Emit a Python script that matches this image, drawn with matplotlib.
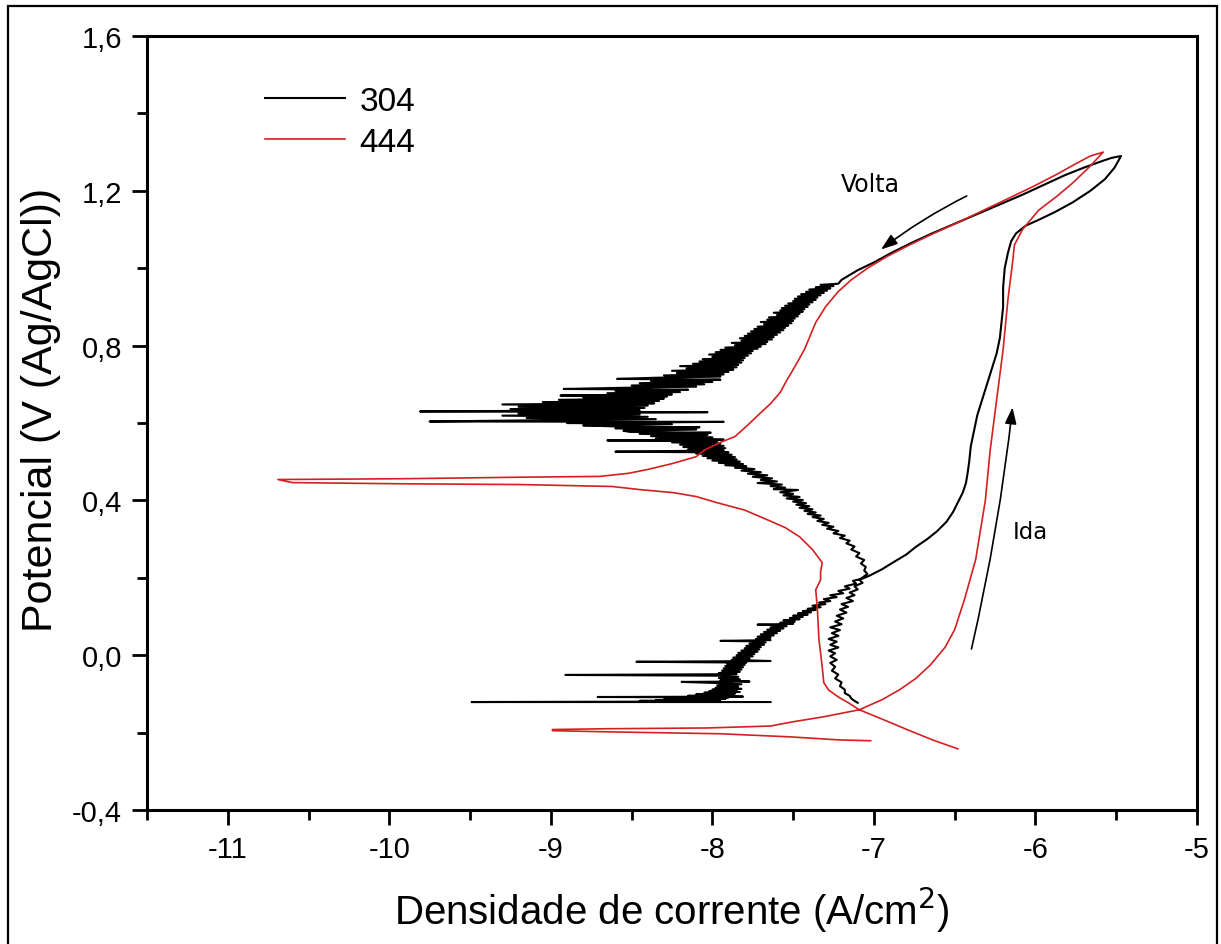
import numpy as np
import matplotlib
matplotlib.use("Agg")
import matplotlib.pyplot as plt
from matplotlib.ticker import FuncFormatter, MultipleLocator
from matplotlib.patches import Rectangle

plt.rcParams['font.family'] = ['Liberation Sans', 'DejaVu Sans']
plt.rcParams['axes.unicode_minus'] = False

# cyclic polarization curves, (potential V vs Ag/AgCl, log current density)
aisi304_forward = [
    (-0.121, -7.64), (-0.121, -9.49), (-0.120, -8.40), (-0.119, -8.10), (-0.118, -8.45),
    (-0.117, -8.00), (-0.116, -8.35), (-0.115, -7.95), (-0.114, -8.30), (-0.113, -7.92),
    (-0.111, -8.25), (-0.109, -7.90), (-0.108, -8.71), (-0.107, -7.81), (-0.105, -8.15),
    (-0.103, -7.88), (-0.101, -8.10), (-0.099, -7.86), (-0.097, -8.05), (-0.095, -7.83),
    (-0.093, -8.02), (-0.091, -7.85), (-0.089, -8.00), (-0.087, -7.82), (-0.084, -7.98),
    (-0.081, -7.84), (-0.078, -7.97), (-0.075, -7.82), (-0.072, -7.96), (-0.069, -8.19),
    (-0.068, -7.77), (-0.065, -7.95), (-0.062, -7.83), (-0.059, -7.96), (-0.056, -7.84),
    (-0.053, -7.95), (-0.051, -8.91), (-0.049, -7.85), (-0.046, -7.96), (-0.043, -7.83),
    (-0.040, -7.94), (-0.037, -7.82), (-0.034, -7.93), (-0.031, -7.81), (-0.028, -7.92),
    (-0.025, -7.80), (-0.022, -7.91), (-0.019, -7.79), (-0.017, -8.47), (-0.015, -7.64),
    (-0.012, -7.88), (-0.009, -7.77), (-0.006, -7.87), (-0.003, -7.75), (0.000, -7.85),
    (0.003, -7.74), (0.006, -7.84), (0.009, -7.72), (0.012, -7.82), (0.015, -7.71),
    (0.018, -7.80), (0.021, -7.70), (0.024, -7.79), (0.027, -7.68), (0.030, -7.77),
    (0.033, -7.67), (0.036, -7.75), (0.037, -7.95), (0.039, -7.64), (0.042, -7.73),
    (0.045, -7.64), (0.048, -7.72), (0.051, -7.62), (0.054, -7.70), (0.057, -7.60),
    (0.060, -7.68), (0.063, -7.58), (0.066, -7.66), (0.069, -7.56), (0.072, -7.64),
    (0.075, -7.54), (0.078, -7.62), (0.079, -7.72), (0.081, -7.50), (0.084, -7.58),
    (0.087, -7.49), (0.090, -7.56), (0.093, -7.46), (0.096, -7.52), (0.099, -7.44),
    (0.102, -7.50), (0.105, -7.41), (0.108, -7.47), (0.111, -7.39), (0.114, -7.44),
    (0.117, -7.36), (0.120, -7.41), (0.124, -7.33), (0.128, -7.38), (0.132, -7.30),
    (0.136, -7.34), (0.140, -7.27), (0.145, -7.31), (0.150, -7.23), (0.155, -7.27),
    (0.160, -7.19), (0.166, -7.22), (0.172, -7.15), (0.178, -7.18), (0.185, -7.11),
    (0.192, -7.13), (0.198, -7.07), (0.205, -7.03),
    (0.222, -6.95), (0.240, -6.88), (0.260, -6.80), (0.280, -6.74), (0.300, -6.67),
    (0.320, -6.61), (0.345, -6.55), (0.370, -6.51), (0.395, -6.48), (0.420, -6.45),
    (0.445, -6.43), (0.470, -6.42), (0.500, -6.41), (0.540, -6.40), (0.580, -6.38),
    (0.620, -6.36), (0.660, -6.33), (0.700, -6.30), (0.740, -6.27), (0.780, -6.24),
    (0.820, -6.22), (0.860, -6.21), (0.900, -6.20), (0.950, -6.20), (1.000, -6.19),
    (1.040, -6.17), (1.070, -6.15), (1.090, -6.12), (1.110, -6.06), (1.125, -5.98),
    (1.145, -5.88), (1.170, -5.77), (1.200, -5.66), (1.230, -5.57), (1.260, -5.51),
    (1.290, -5.47),
]

aisi304_reverse = [
    (1.285, -5.53), (1.275, -5.60), (1.260, -5.70), (1.240, -5.82), (1.215, -5.95),
    (1.190, -6.08), (1.165, -6.22), (1.140, -6.36), (1.115, -6.50), (1.090, -6.64),
    (1.065, -6.77), (1.040, -6.89), (1.015, -7.00), (0.995, -7.10), (0.980, -7.16),
    (0.970, -7.20), (0.960, -7.22), (0.957, -7.33), (0.954, -7.25), (0.951, -7.36),
    (0.948, -7.27), (0.945, -7.40), (0.942, -7.29), (0.939, -7.42), (0.936, -7.31),
    (0.933, -7.45), (0.930, -7.33), (0.927, -7.47), (0.924, -7.35), (0.921, -7.49),
    (0.918, -7.36), (0.915, -7.50), (0.912, -7.38), (0.909, -7.53), (0.906, -7.40),
    (0.903, -7.55), (0.900, -7.41), (0.897, -7.57), (0.894, -7.43), (0.891, -7.58),
    (0.888, -7.44), (0.885, -7.62), (0.882, -7.46), (0.879, -7.60), (0.876, -7.47),
    (0.873, -7.65), (0.870, -7.49), (0.867, -7.66), (0.864, -7.50), (0.861, -7.70),
    (0.858, -7.51), (0.855, -7.68), (0.852, -7.53), (0.849, -7.72), (0.846, -7.55),
    (0.843, -7.74), (0.840, -7.56), (0.837, -7.76), (0.834, -7.58), (0.831, -7.78),
    (0.828, -7.60), (0.825, -7.80), (0.822, -7.62), (0.819, -7.83), (0.816, -7.63),
    (0.813, -7.82), (0.810, -7.66), (0.807, -7.88), (0.804, -7.67), (0.801, -7.86),
    (0.798, -7.70), (0.795, -7.92), (0.792, -7.72), (0.789, -7.95), (0.786, -7.75),
    (0.783, -7.98), (0.780, -7.76), (0.777, -8.02), (0.774, -7.78), (0.771, -8.00),
    (0.768, -7.80), (0.765, -8.06), (0.762, -7.81), (0.759, -8.08), (0.756, -7.82),
    (0.753, -8.12), (0.750, -7.84), (0.747, -8.20), (0.744, -7.85), (0.741, -8.16),
    (0.738, -7.87), (0.735, -8.25), (0.732, -7.90), (0.729, -8.22), (0.726, -7.93),
    (0.723, -8.30), (0.720, -7.95), (0.717, -8.35), (0.714, -8.59), (0.712, -7.95),
    (0.709, -8.38), (0.706, -8.00), (0.703, -8.45), (0.700, -8.05), (0.697, -8.50),
    (0.694, -8.10), (0.691, -8.55), (0.688, -8.92), (0.686, -8.15), (0.683, -8.60),
    (0.680, -8.20), (0.677, -8.65), (0.674, -8.25), (0.671, -8.94), (0.669, -8.28),
    (0.666, -8.80), (0.663, -8.30), (0.660, -8.95), (0.657, -8.33), (0.654, -9.05),
    (0.651, -8.36), (0.648, -9.30), (0.645, -8.40), (0.642, -9.20), (0.639, -8.42),
    (0.636, -9.25), (0.633, -8.45), (0.630, -9.81), (0.628, -8.03), (0.625, -9.20),
    (0.622, -8.45), (0.619, -9.30), (0.616, -8.40), (0.613, -9.15), (0.610, -8.35),
    (0.607, -9.10), (0.604, -9.75), (0.603, -7.93), (0.600, -8.90), (0.597, -8.25),
    (0.594, -8.80), (0.591, -8.59), (0.589, -8.08), (0.586, -8.60), (0.583, -8.10),
    (0.580, -8.55), (0.577, -8.51), (0.575, -8.01), (0.572, -8.45), (0.569, -8.03),
    (0.566, -8.38), (0.563, -8.00), (0.560, -8.35), (0.557, -7.93), (0.555, -8.65),
    (0.553, -7.97), (0.550, -8.25), (0.547, -7.95), (0.544, -8.20), (0.541, -7.93),
    (0.538, -8.18), (0.535, -7.92), (0.532, -8.15), (0.529, -7.93), (0.526, -8.60),
    (0.524, -7.90), (0.521, -8.10), (0.518, -7.88), (0.515, -8.06), (0.512, -7.86),
    (0.509, -8.03), (0.506, -7.85), (0.503, -8.00), (0.500, -7.83), (0.497, -7.96),
    (0.494, -7.81), (0.491, -7.92), (0.488, -7.79), (0.485, -7.86), (0.481, -7.74),
    (0.477, -7.82), (0.473, -7.70), (0.469, -7.78), (0.465, -7.66), (0.461, -7.75),
    (0.457, -7.63), (0.453, -7.70), (0.449, -7.60), (0.445, -7.72), (0.441, -7.57),
    (0.437, -7.64), (0.433, -7.55), (0.429, -7.62), (0.427, -7.47), (0.421, -7.58),
    (0.417, -7.50), (0.413, -7.56), (0.409, -7.46), (0.405, -7.54), (0.401, -7.44),
    (0.397, -7.50), (0.393, -7.42), (0.389, -7.48), (0.385, -7.40), (0.381, -7.46),
    (0.377, -7.38), (0.373, -7.43), (0.369, -7.36), (0.365, -7.41), (0.361, -7.33),
    (0.357, -7.38), (0.352, -7.31), (0.347, -7.35), (0.342, -7.28), (0.337, -7.32),
    (0.332, -7.25), (0.327, -7.29), (0.321, -7.22), (0.315, -7.25), (0.309, -7.18),
    (0.303, -7.21), (0.296, -7.15), (0.289, -7.17), (0.281, -7.12), (0.273, -7.14),
    (0.264, -7.09), (0.255, -7.11), (0.246, -7.06), (0.237, -7.08), (0.228, -7.05),
    (0.219, -7.06), (0.210, -7.04), (0.204, -7.06), (0.195, -7.09), (0.187, -7.07),
    (0.178, -7.12), (0.170, -7.10), (0.162, -7.15), (0.155, -7.12), (0.148, -7.17),
    (0.140, -7.13), (0.132, -7.20), (0.125, -7.16), (0.118, -7.21), (0.110, -7.17),
    (0.102, -7.23), (0.095, -7.19), (0.087, -7.24), (0.080, -7.20), (0.072, -7.27),
    (0.065, -7.21), (0.057, -7.26), (0.050, -7.22), (0.042, -7.28), (0.035, -7.23),
    (0.027, -7.27), (0.020, -7.22), (0.012, -7.28), (0.005, -7.24), (-0.003, -7.27),
    (-0.012, -7.23), (-0.020, -7.27), (-0.030, -7.24), (-0.040, -7.26), (-0.050, -7.22),
    (-0.060, -7.24), (-0.070, -7.20), (-0.080, -7.21), (-0.089, -7.18), (-0.098, -7.18),
    (-0.105, -7.15), (-0.112, -7.14), (-0.118, -7.12), (-0.123, -7.10),
]

aisi444_forward = [
    (-0.221, -7.02), (-0.219, -7.21), (-0.211, -7.52), (-0.203, -7.95), (-0.198, -8.65),
    (-0.195, -8.99), (-0.192, -8.99), (-0.190, -8.65), (-0.188, -8.03), (-0.183, -7.64),
    (-0.172, -7.50), (-0.159, -7.31), (-0.141, -7.09), (-0.115, -6.95), (-0.089, -6.84),
    (-0.060, -6.74), (-0.025, -6.65), (0.020, -6.56), (0.066, -6.50), (0.143, -6.44),
    (0.247, -6.37), (0.400, -6.31), (0.530, -6.28), (0.660, -6.24), (0.790, -6.20),
    (0.920, -6.17), (1.020, -6.14), (1.060, -6.13), (1.100, -6.08), (1.150, -5.98),
    (1.185, -5.87), (1.220, -5.77), (1.260, -5.67), (1.300, -5.58),
]

aisi444_reverse = [
    (1.290, -5.66), (1.270, -5.75), (1.240, -5.88), (1.210, -6.02), (1.180, -6.17),
    (1.150, -6.32), (1.120, -6.47), (1.090, -6.63), (1.060, -6.78), (1.030, -6.92),
    (1.000, -7.04), (0.970, -7.14), (0.940, -7.22), (0.900, -7.30), (0.860, -7.36),
    (0.820, -7.40), (0.790, -7.43), (0.760, -7.47), (0.738, -7.50), (0.710, -7.54),
    (0.679, -7.58), (0.650, -7.64), (0.627, -7.70), (0.595, -7.78), (0.565, -7.86),
    (0.550, -7.95), (0.530, -8.05), (0.513, -8.10), (0.495, -8.25), (0.480, -8.40),
    (0.470, -8.52), (0.462, -8.70), (0.460, -9.19), (0.456, -9.93), (0.454, -10.69),
    (0.446, -10.60), (0.443, -9.93), (0.441, -9.19), (0.436, -8.62), (0.428, -8.45),
    (0.420, -8.24), (0.410, -8.10), (0.394, -7.97), (0.375, -7.80), (0.350, -7.66),
    (0.330, -7.55), (0.306, -7.46), (0.273, -7.38), (0.239, -7.32), (0.215, -7.33),
    (0.195, -7.33), (0.169, -7.36), (0.120, -7.35), (0.040, -7.34), (-0.030, -7.32),
    (-0.071, -7.31), (-0.090, -7.28), (-0.108, -7.22), (-0.125, -7.15), (-0.141, -7.09),
    (-0.165, -6.95), (-0.193, -6.79), (-0.220, -6.63), (-0.242, -6.48),
]

series_labels = ['304', '444']
series_colors = ['black', '#d42020']
series_widths = [1.5, 1.2]

fig = plt.figure(figsize=(12.21, 9.45), dpi=100)
ax = fig.add_axes([0.1204, 0.1418, 0.8599, 0.8190])

curves = [aisi304_forward + aisi304_reverse, aisi444_forward + aisi444_reverse]
for pts, label, color, lw in zip(curves, series_labels, series_colors, series_widths):
    pts = np.array(pts)
    ax.plot(pts[:, 1], pts[:, 0], color=color, lw=lw, label=label)

# scan direction arrows
ax.annotate('', xy=(-6.97, 1.044), xytext=(-6.41, 1.19),
            arrowprops=dict(arrowstyle='-|>,head_length=1.0,head_width=0.35', color='black',
                            lw=1.2, connectionstyle='arc3,rad=0.05'))
ax.text(-7.02, 1.217, 'Volta', fontsize=17, family='DejaVu Sans', ha='center', va='center')
ax.annotate('', xy=(-6.14, 0.648), xytext=(-6.40, 0.009),
            arrowprops=dict(arrowstyle='-|>,head_length=1.0,head_width=0.35', color='black',
                            lw=1.2, connectionstyle='arc3,rad=0.03'))
ax.text(-6.03, 0.32, 'Ida', fontsize=16.5, family='DejaVu Sans', ha='center', va='center')

ax.set_xlim(-11.5, -5)
ax.set_ylim(-0.4, 1.6)
ax.xaxis.set_major_locator(MultipleLocator(1))
ax.xaxis.set_minor_locator(MultipleLocator(0.5))
ax.yaxis.set_major_locator(MultipleLocator(0.4))
ax.yaxis.set_minor_locator(MultipleLocator(0.2))
ax.xaxis.set_major_formatter(FuncFormatter(lambda v, p: f"{v:.0f}"))
ax.yaxis.set_major_formatter(FuncFormatter(lambda v, p: f"{v:.1f}".replace('.', ',')))
ax.tick_params(which='both', direction='out', width=2, labelsize=21, top=False, right=False)
ax.tick_params(which='major', length=11, pad=7)
ax.tick_params(which='minor', length=7)
for s in ax.spines.values():
    s.set_linewidth(2.2)

ax.set_xlabel('Densidade de corrente (A/cm$^2$)', fontsize=29, labelpad=16)
ax.set_ylabel('Potencial (V (Ag/AgCl))', fontsize=31)
ax.yaxis.set_label_coords(-0.082, 0.518)

ax.legend(loc='upper left', bbox_to_anchor=(0.112, 0.936), frameon=False, fontsize=24,
          handlelength=2.4, handletextpad=0.45, labelspacing=0.3, borderpad=0, borderaxespad=0)

# outer frame around the whole figure
fig.patches.append(Rectangle((8 / 1221, -0.01), 1209 / 1221, 1.0026, transform=fig.transFigure,
                             fill=False, ec='black', lw=1.6))

fig.savefig('out.png', dpi=100)
